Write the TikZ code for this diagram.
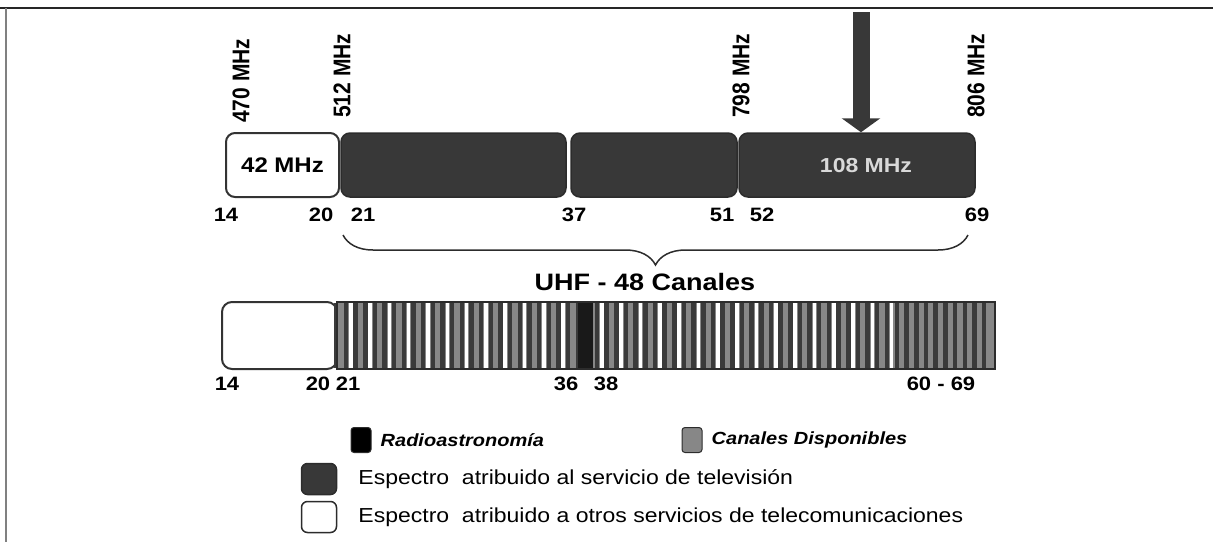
\documentclass[tikz,border=0pt]{standalone}
\usepackage{fontspec}
\setmainfont{Liberation Sans}
\usetikzlibrary{arrows.meta, positioning, decorations.pathreplacing}

\definecolor{tvgray}{HTML}{383838}
\definecolor{chgray}{HTML}{878787}
\definecolor{chdark}{HTML}{2C2C2C}
\definecolor{chline}{HTML}{3A3A3A}
\newcommand{\squash}[1]{\scalebox{1}[0.88]{#1}}
\newcommand{\widen}[1]{\scalebox{1}[1.15]{#1}}

\begin{document}
\begin{tikzpicture}[x=1pt, y=-1pt,
  band/.style={draw=chdark, line width=1.5pt, rounded corners=9pt, minimum height=64pt, inner sep=0pt},
  tvband/.style={band, fill=tvgray},
  freeband/.style={band, draw=black!80, line width=2pt, fill=white},
  freq/.style={rotate=90, anchor=west, inner sep=0pt, font=\fontsize{21}{21}\selectfont\bfseries},
  chan/.style={inner sep=0pt, font=\fontsize{22}{22}\selectfont\bfseries},
  legsmall/.style={draw=chdark, line width=1pt, rounded corners=3pt, minimum width=20pt, minimum height=25pt, inner sep=0pt},
  legbig/.style={draw=chdark, line width=1.5pt, rounded corners=6pt, minimum width=35pt, minimum height=31pt, inner sep=0pt},
  legital/.style={inner sep=0pt, font=\fontsize{20}{20}\selectfont\bfseries\itshape},
  legtext/.style={inner sep=0pt, font=\fontsize{23}{23}\selectfont}]
  \useasboundingbox (0,0) rectangle (1213,542);

  % frame
  \draw[black!85, line width=2pt] (0,8) -- (1213,8);
  \draw[black!50, line width=2pt] (6,8) -- (6,542);

  % upper band
  \node[freeband, minimum width=113pt] (free) at (282.5,165) {\squash{\fontsize{24}{24}\selectfont\bfseries 42 MHz}};
  \node[tvband, minimum width=225pt] (tvA) at (453.5,165) {};
  \node[tvband, minimum width=166pt] (tvB) at (654,165) {};
  \node[tvband, minimum width=236pt] (tvC) at (857,165) {};
  \node[inner sep=0pt, text=black!15, font=\fontsize{23}{23}\selectfont\bfseries] (t108) at (866,166) {\squash{108 MHz}};

  % band limits
  \node[freq] (f470) at (241,123) {\widen{470 MHz}};
  \node[freq] (f512) at (342,118) {\widen{512 MHz}};
  \node[freq] (f798) at (741,118) {\widen{798 MHz}};
  \node[freq] (f806) at (976,118) {\widen{806 MHz}};

  % arrow onto the 108 MHz band
  \coordinate (arrtop) at (861,12);
  \draw[tvgray, line width=17pt, -{Triangle[length=14pt, width=38pt]}] (arrtop) -- (arrtop |- tvC.north);

  % channel numbers
  \node[chan] (c14) at (226,215) {\squash{14}};
  \node[chan] (c20) at (321,215) {\squash{20}};
  \node[chan] (c21) at (363,215) {\squash{21}};
  \node[chan] (c37) at (574,215) {\squash{37}};
  \node[chan] (c51) at (722,215) {\squash{51}};
  \node[chan] (c52) at (762,215) {\squash{52}};
  \node[chan] (c69) at (977,215) {\squash{69}};

  % brace
  \draw[chdark, line width=1.5pt, decorate, decoration={brace, amplitude=30pt, mirror}] (343,235) -- (968,235);
  \node[inner sep=0pt, font=\fontsize{27}{27}\selectfont\bfseries] (uhf) at (645,282) {\squash{UHF - 48 Canales}};

  % lower band
  \node[freeband, minimum width=115pt, minimum height=67pt, rounded corners=10pt] (freeB) at (279.5,335.5) {};
  \node[fill=chgray, minimum width=658pt, minimum height=67pt, inner sep=0pt] (chans) at (666,335.5) {};
  \foreach \k in {-1,...,27}{
    \fill[chline] ({350.7+\k*19.32+2.6},303) rectangle +(4.5,65);
    \fill[chline] ({350.7+\k*19.32+12.3},303) rectangle +(4.5,65);
  }
  \foreach \k in {0,...,28}
    \fill[white] ({350.7+\k*19.32-1.8},303) rectangle +(3.6,65);
  \foreach \j in {0,...,9}
    \fill[chline] ({894.6+\j*9.7},303) rectangle +(4.5,65);
  \fill[black!90] (578,303) rectangle (593,368);
  \draw[chdark, line width=1.5pt] (chans.north west) rectangle (chans.south east);

  \node[chan] (b14) at (227,384) {\squash{14}};
  \node[chan] (b20) at (318,384) {\squash{20}};
  \node[chan] (b21) at (348,384) {\squash{21}};
  \node[chan] (b36) at (566,384) {\squash{36}};
  \node[chan] (b38) at (606,384) {\squash{38}};
  \node[chan] (b60) at (941,384) {\squash{60 - 69}};

  % legend
  \node[legsmall, fill=black] (sqRadio) at (361,440) {};
  \node[legital, right=9pt of sqRadio] (tRadio) {\squash{Radioastronomía}};
  \node[legsmall, fill=chgray] (sqChan) at (692,440) {};
  \node[legital, right=9pt of sqChan] (tChan) {\squash{Canales Disponibles}};
  \node[legbig, fill=tvgray] (sqTV) at (319,479) {};
  \node[legtext, right=21pt of sqTV] (tTV) {\squash{Espectro\ \ atribuido al servicio de televisión}};
  \node[legbig, fill=white] (sqOther) at (319,517) {};
  \node[legtext, right=21pt of sqOther] (tOther) {\squash{Espectro\ \ atribuido a otros servicios de telecomunicaciones}};
\end{tikzpicture}
\end{document}
